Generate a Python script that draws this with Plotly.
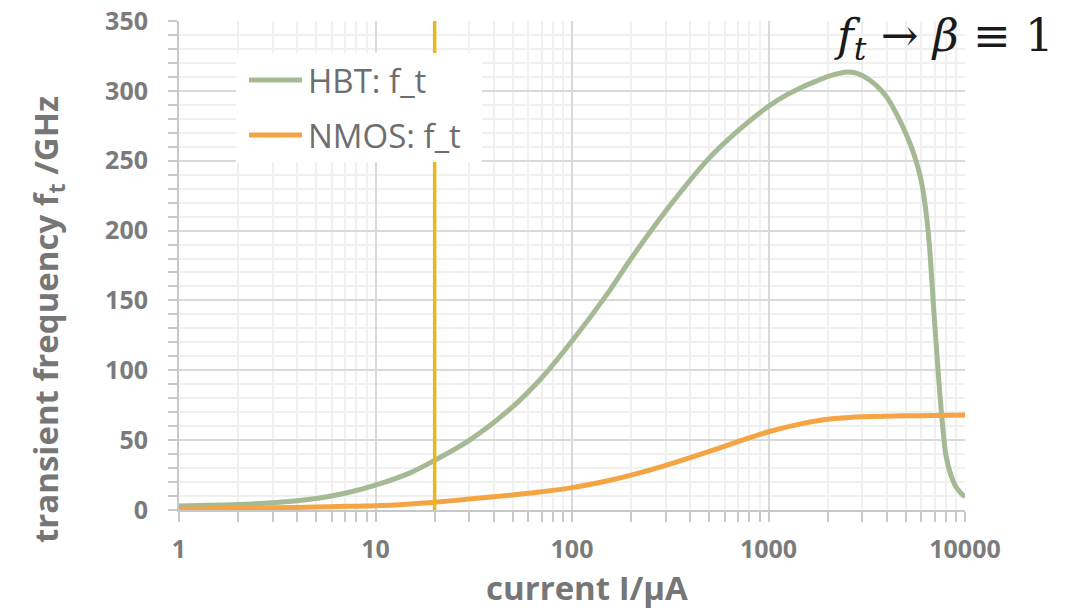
import plotly.graph_objects as go

current_uA = [1, 2, 3, 5, 7, 10, 15, 20, 30, 50, 70, 100, 150, 200, 300, 500, 700,
              1000, 1250, 1500, 1750, 2000, 2250, 2500, 2750, 3000, 3500, 4000, 4500,
              5000, 5500, 6000, 6500, 7000, 7500, 8000, 8500, 9000, 9500, 10000]
hbt_ft = [2.9, 3.9, 5.2, 8.3, 12, 17.8, 26.6, 35.5, 49.8, 74, 94.5, 121, 154, 180, 214,
          252, 271.5, 289, 297.5, 303, 307, 310.2, 312.3, 313.5, 313, 311, 304.5,
          295.5, 283, 269.5, 254.5, 235, 199, 135, 78, 39, 24.5, 16.5, 12.3, 9.3]

nmos_current_uA = [1, 2, 3, 5, 7, 10, 15, 20, 30, 50, 70, 100, 150, 200, 300, 500, 700,
                   1000, 1500, 2000, 3000, 5000, 7000, 10000]
nmos_ft = [0.5, 1.2, 1.6, 2.1, 2.6, 3.0, 4.3, 5.5, 7.8, 10.8, 13, 16, 20.8, 25, 32,
           42, 49, 56, 62, 65, 66.8, 67.4, 67.7, 68]

marker_current = 20
y_ticks = [0, 50, 100, 150, 200, 250, 300, 350]
x_ticks = [1, 10, 100, 1000, 10000]
x_ticktext = ["1", "10", "100", "1000", "10000"]

GREEN = "#A4B994"
ORANGE = "#F5A443"
GOLD = "#E8B820"
TICK_GRAY = "#7B7B7B"

fig = go.Figure()
fig.add_trace(go.Scatter(x=current_uA, y=hbt_ft, mode="lines", name="HBT: f_t",
                         line=dict(color=GREEN, width=5, shape="spline", smoothing=0.8),
                         showlegend=False))
fig.add_trace(go.Scatter(x=nmos_current_uA, y=nmos_ft, mode="lines", name="NMOS: f_t",
                         line=dict(color=ORANGE, width=5, shape="spline", smoothing=0.8),
                         showlegend=False))

# vertical marker line at 20 uA
fig.add_shape(type="line", xref="x", yref="paper", x0=marker_current, x1=marker_current,
              y0=0, y1=1, line=dict(color=GOLD, width=3.5), layer="above")

# legend box drawn manually (white, above grid and marker line)
fig.add_shape(type="rect", xref="paper", yref="paper",
              x0=(236 - 179) / 786, x1=(482 - 179) / 786,
              y0=(510 - 162) / 489, y1=(510 - 53) / 489,
              fillcolor="white", line=dict(width=0), layer="above")
for name, col, ypx in [("HBT: f_t", GREEN, 80), ("NMOS: f_t", ORANGE, 135)]:
    yp = (510 - ypx) / 489
    fig.add_shape(type="line", xref="paper", yref="paper",
                  x0=(249 - 179) / 786, x1=(302 - 179) / 786, y0=yp, y1=yp,
                  line=dict(color=col, width=5), layer="above")
    fig.add_annotation(xref="paper", yref="paper", x=(306 - 179) / 786, y=yp,
                       xanchor="left", yanchor="middle", text=name, showarrow=False,
                       font=dict(family="Open Sans", size=33, color="#6E6E6E"))

# axis titles
fig.add_annotation(xref="paper", yref="paper", x=(587 - 179) / 786, y=(510 - 587) / 489,
                   xanchor="center", yanchor="middle", showarrow=False,
                   text="<b>current I/µA</b>",
                   font=dict(family="Open Sans", size=33, color="#767676"))
fig.add_annotation(xref="paper", yref="paper", x=(47 - 179) / 786, y=(510 - 320) / 489,
                   xanchor="center", yanchor="middle", showarrow=False, textangle=-90,
                   text="<b>transient frequency f<sub>t</sub> /GHz</b>",
                   font=dict(family="Open Sans", size=33, color="#767676"))

# formula
fig.add_annotation(xref="paper", yref="paper", x=(944 - 179) / 786, y=(510 - 38) / 489,
                   xanchor="center", yanchor="middle", showarrow=False,
                   text="<i>f</i><sub><i>t</i></sub> → <i>β</i> ≡ 1",
                   font=dict(family="DejaVu Serif", size=45, color="#1A1A1A"))

fig.update_layout(
    width=1084, height=611,
    margin=dict(l=179, r=119, t=21, b=101),
    paper_bgcolor="white", plot_bgcolor="white",
    showlegend=False,
)
fig.update_xaxes(
    type="log", range=[0, 4], automargin=False,
    tickvals=x_ticks, ticktext=x_ticktext,
    showgrid=True, gridcolor="#D9D9D9", gridwidth=1.5,
    showline=True, linecolor="#C8C8C8", linewidth=2,
    ticks="outside", ticklen=10, tickcolor="#C8C8C8", tickwidth=1.5,
    ticklabelstandoff=6,
    tickfont=dict(family="Open Sans", size=25, color=TICK_GRAY, weight="bold"),
    minor=dict(dtick="D1", showgrid=True, gridcolor="#F0F0F0", gridwidth=1.5,
               ticks="outside", ticklen=10, tickcolor="#C8C8C8", tickwidth=1.5),
    zeroline=False,
)
fig.update_yaxes(
    range=[0, 350], tickvals=y_ticks, automargin=False,
    showgrid=True, gridcolor="#D9D9D9", gridwidth=1.5,
    showline=True, linecolor="#C8C8C8", linewidth=2,
    ticks="outside", ticklen=9, tickcolor="#C8C8C8", tickwidth=1.5,
    ticklabelstandoff=15,
    tickfont=dict(family="Open Sans", size=25, color=TICK_GRAY, weight="bold"),
    minor=dict(dtick=10, showgrid=True, gridcolor="#F0F0F0", gridwidth=1.5,
               ticks="outside", ticklen=9, tickcolor="#C8C8C8", tickwidth=1.5),
    zeroline=False,
)

fig.write_html("out.html")
